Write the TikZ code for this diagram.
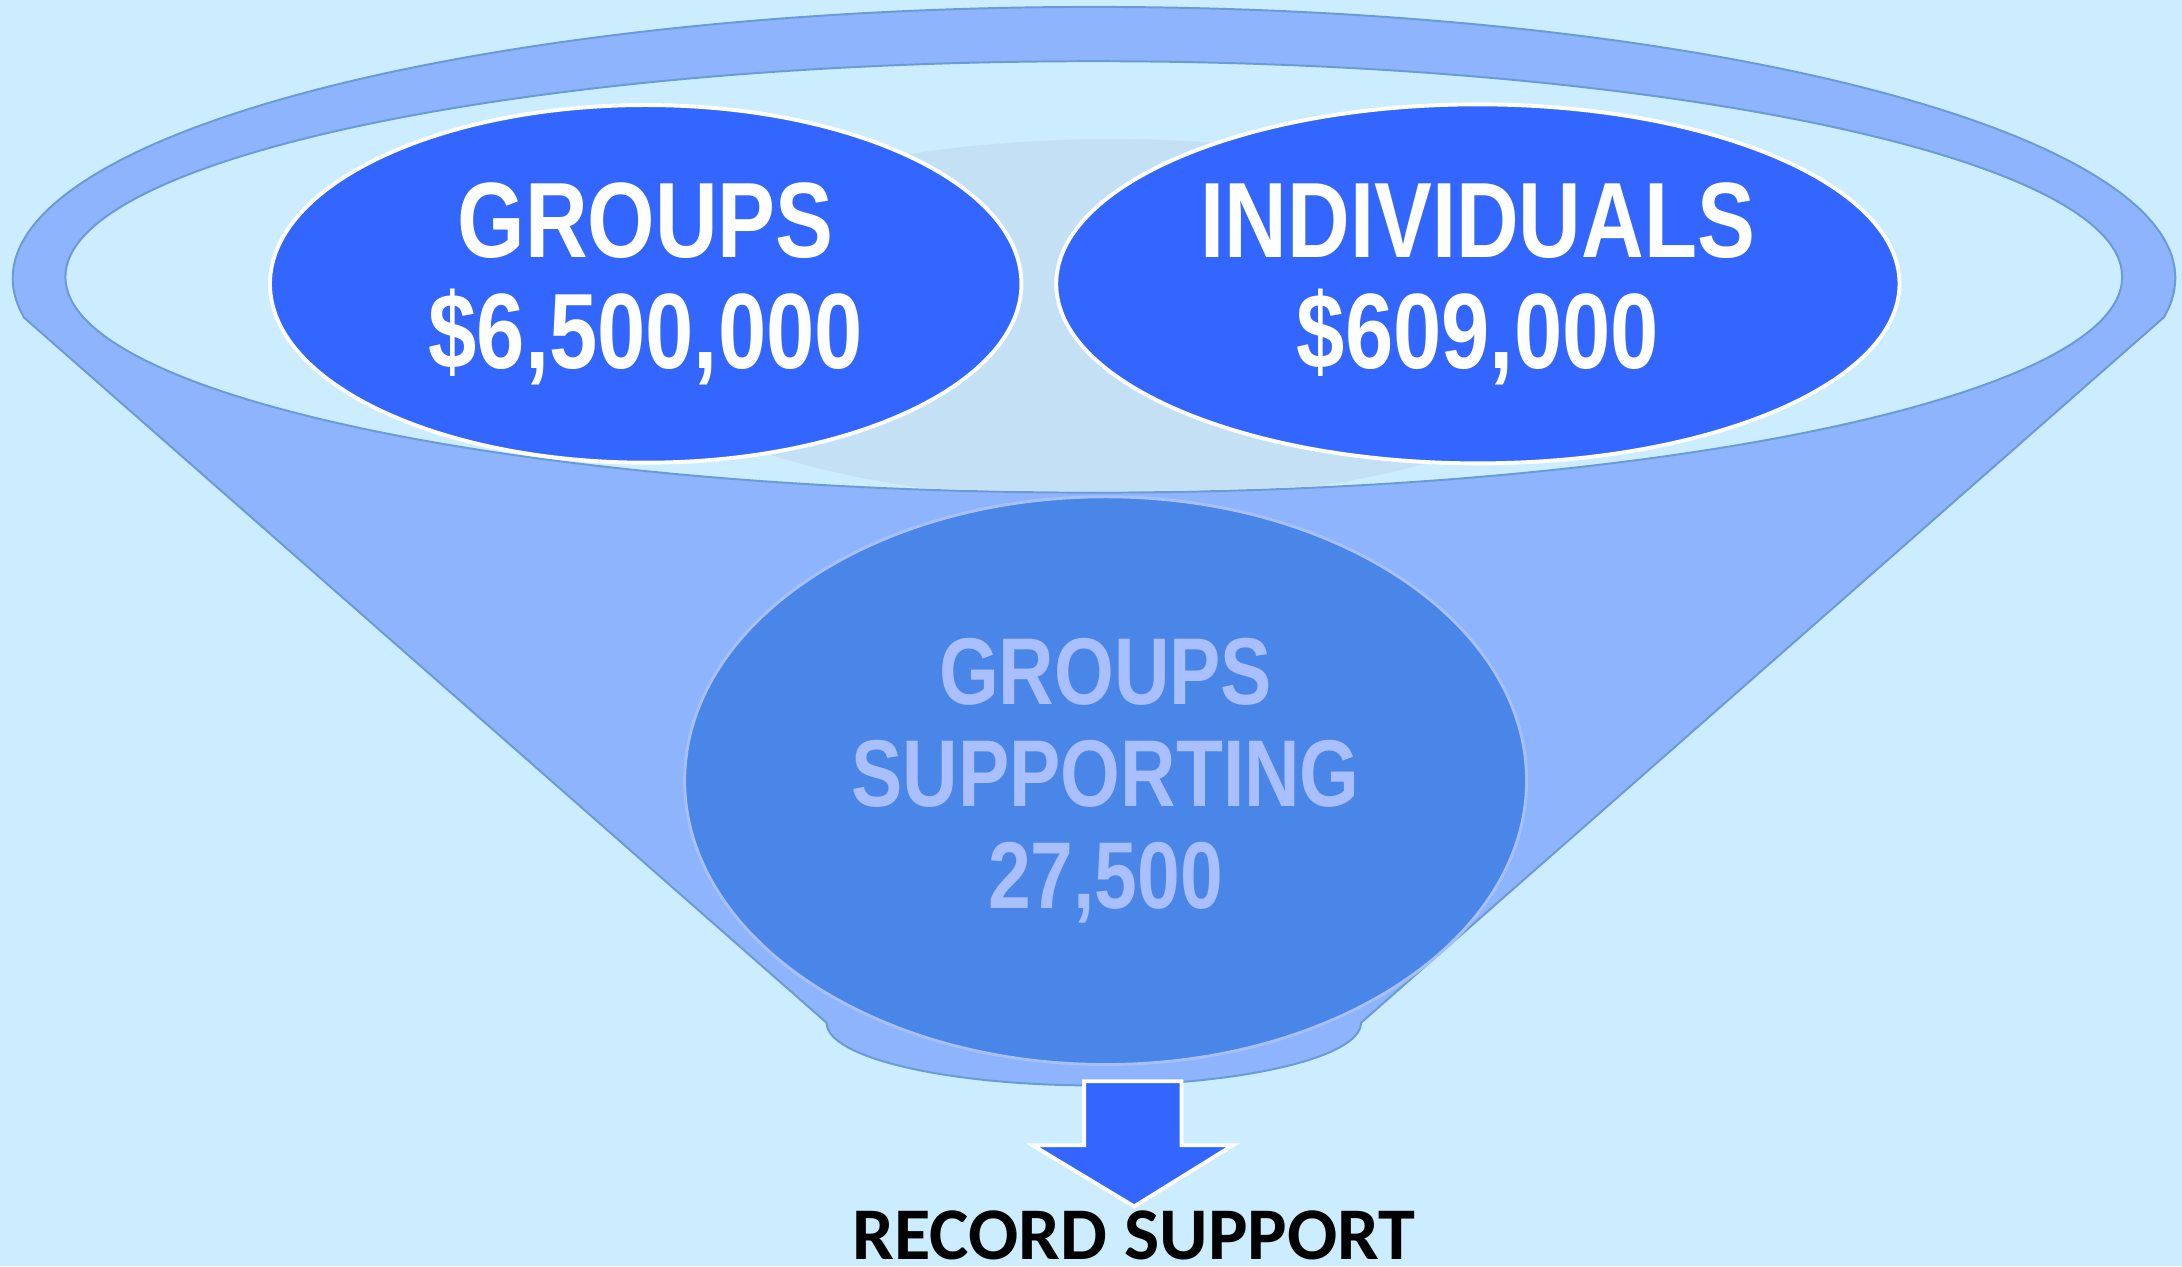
\documentclass[tikz,border=0pt]{standalone}
\usepackage{fontspec}
\usepackage{tikz}
\usetikzlibrary{shapes.geometric}
\newfontfamily\headfont[FakeStretch=0.81]{Liberation Sans}
\newfontfamily\labelfont{Carlito}
\definecolor{bg}{HTML}{CCECFF}
\definecolor{funnel}{HTML}{8DB4FC}
\definecolor{rimline}{HTML}{6A9BD6}
\definecolor{backfade}{HTML}{C4E0F5}
\definecolor{royal}{HTML}{3366FF}
\definecolor{mid}{HTML}{4A86E8}
\definecolor{midtext}{HTML}{AABFFF}
\definecolor{midline}{HTML}{A8C0F8}
\tikzset{
  body/.style={fill=funnel, draw=rimline, line width=0.4pt, line join=round},
  hole/.style={fill=bg, draw=rimline, line width=0.4pt},
  pot/.style={
    ellipse,
    fill=royal,
    draw=white,
    line width=0.8pt,
    inner sep=0pt,
    text=white,
    align=center,
    font=\headfont\bfseries\fontsize{21.9}{22.7}\selectfont
  },
  sum/.style={
    ellipse,
    fill=mid,
    draw=midline,
    line width=0.6pt,
    inner sep=0pt,
    text=midtext,
    align=center,
    font=\headfont\bfseries\fontsize{19.4}{20.8}\selectfont
  },
  outarrow/.style={fill=royal, draw=white, line width=0.8pt, line join=miter},
  caption/.style={
    font=\labelfont\bfseries\fontsize{15.2}{18}\selectfont,
    text=black,
    anchor=base,
    inner sep=0pt
  }
}

\begin{document}
\begin{tikzpicture}
  \useasboundingbox (0,0) rectangle (15.68,9.10);
  \fill[bg] (0,0) rectangle (15.68,9.10);

  % funnel body
  \draw[body] (0.17,6.82) -- (5.94,1.75)
    arc[start angle=180, end angle=360, x radius=1.92, y radius=0.45]
    -- (15.55,6.82)
    arc[start angle=-8.26, end angle=188.26, x radius=7.77, y radius=1.95]
    -- cycle;

  % mouth
  \draw[hole] (7.86,7.11) ellipse [x radius=7.39, y radius=1.55];
  \begin{scope}
    \clip (7.86,7.11) ellipse [x radius=7.38, y radius=1.54];
    \fill[backfade] (8.00,6.80) ellipse [x radius=3.69, y radius=1.30];
  \end{scope}

  \node[pot, minimum width=5.40cm, minimum height=2.57cm] (groups) at (4.64,7.06)
    {GROUPS\\\$6,500,000};
  \node[pot, minimum width=6.06cm, minimum height=2.58cm] (indiv) at (10.62,7.06)
    {INDIVIDUALS\\\$609,000};
  \node[sum, minimum width=6.05cm, minimum height=4.08cm] (total) at (7.945,3.49)
    {GROUPS\\SUPPORTING\\27,500};

  % arrow out
  \draw[outarrow] (7.79,1.33) -- (8.49,1.33) -- (8.49,0.87) -- (8.86,0.87)
    -- (8.15,0.43) -- (7.42,0.87) -- (7.79,0.87) -- cycle;

  \node[caption] (record) at (8.15,0.05) {RECORD SUPPORT};
\end{tikzpicture}
\end{document}
